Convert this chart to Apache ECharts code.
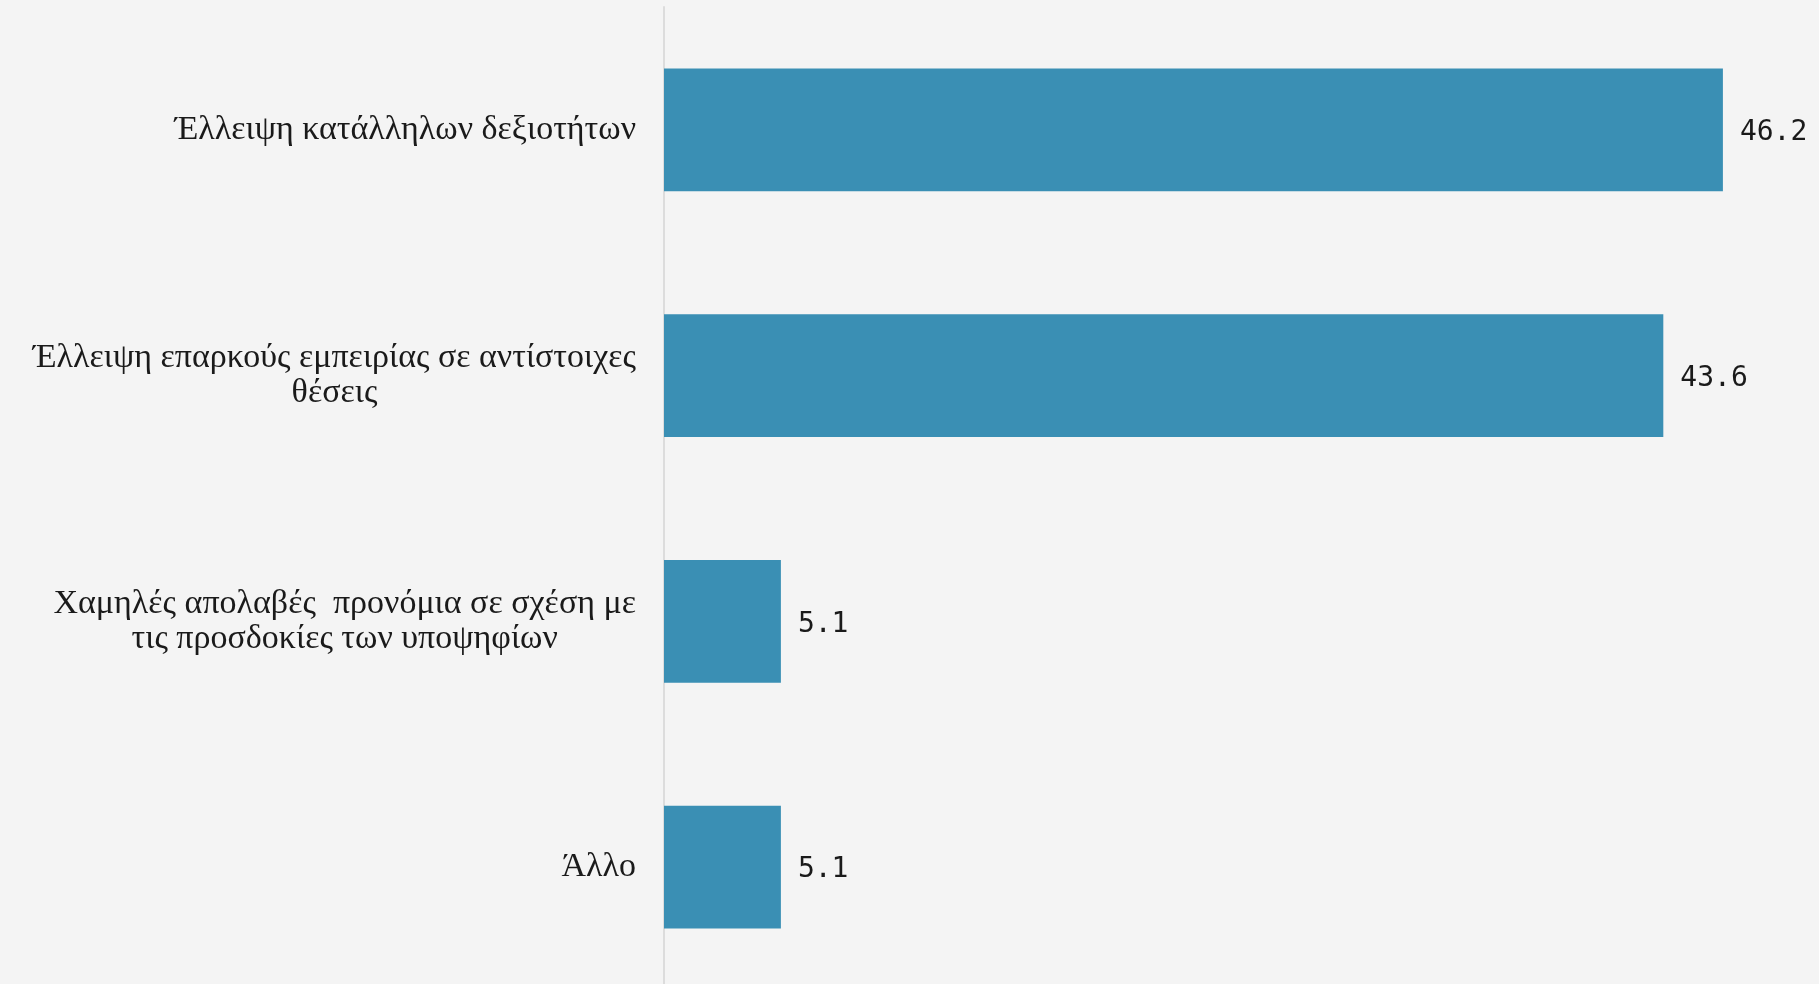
<!DOCTYPE html>
<html><head><meta charset="utf-8">
<script src="https://cdn.jsdelivr.net/npm/echarts@6/dist/echarts.min.js"></script>
<style>html,body{margin:0;padding:0;background:#f4f4f4;}#c{width:1819px;height:984px;}</style>
</head><body><div id="c"></div>
<script>
const categories = [
  "Έλλειψη κατάλληλων δεξιοτήτων",
  "Έλλειψη επαρκούς εμπειρίας σε αντίστοιχες\nθέσεις",
  "Χαμηλές απολαβές  προνόμια σε σχέση με\nτις προσδοκίες των υποψηφίων",
  "Άλλο"
];
const values = [46.2, 43.6, 5.1, 5.1];

const chart = echarts.init(document.getElementById('c'));
chart.setOption({
  backgroundColor: '#f4f4f4',
  animation: false,
  grid: { left: 664, top: 7, height: 983, width: 1146, containLabel: false, outerBoundsMode: 'none' },
  xAxis: { type: 'value', min: 0, max: 50, show: false },
  yAxis: {
    type: 'category', data: categories, inverse: true,
    axisLine: { show: true, lineStyle: { color: '#dcdcdc', width: 2 } },
    axisTick: { show: false },
    axisLabel: {
      margin: 28,
      formatter: v => v.split('\n').map(s => '{c|' + s + '}').join('\n'),
      rich: { c: { align: 'center', fontFamily: 'Liberation Serif', fontSize: 34, lineHeight: 35, color: '#1a1a1a' } }
    }
  },
  series: [{
    type: 'bar', data: values, barWidth: '50%',
    itemStyle: { color: '#3a8fb4' },
    label: { show: true, position: 'right', distance: 17, offset: [0, 3], fontFamily: 'DejaVu Sans Mono', fontSize: 28, color: '#1a1a1a', formatter: p => p.value.toFixed(1) }
  }]
});
</script></body></html>
